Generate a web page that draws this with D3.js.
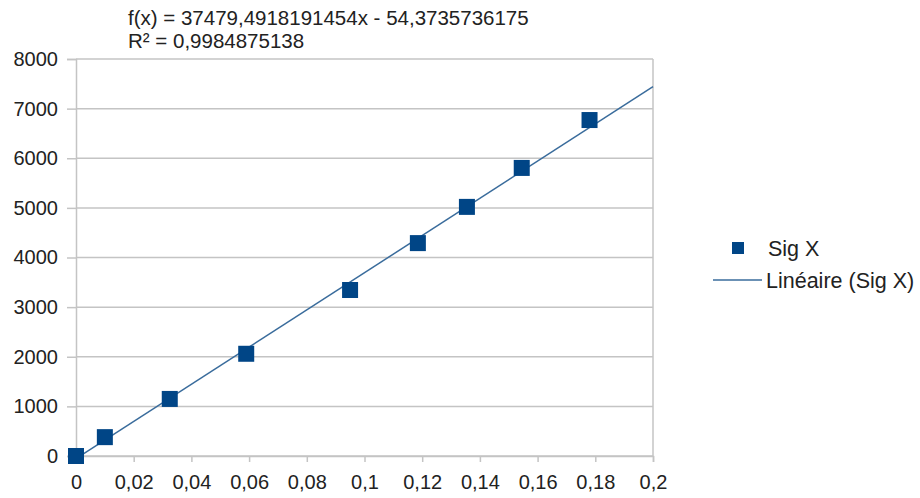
<!DOCTYPE html>
<html lang="fr">
<head>
<meta charset="UTF-8">
<title>Sig X</title>
<script src="https://d3js.org/d3.v7.min.js"></script>
<style>
  body { margin: 0; background: #fff; }
  text { font-family: "Liberation Sans", Arial, sans-serif; fill: #222; }
</style>
</head>
<body>
<div id="chart"></div>
<script>
// ===== data =====
var xValues = [0, 0.01, 0.0325, 0.059, 0.095, 0.1185, 0.1355, 0.1545, 0.178];
var sigX    = [0, 380, 1150, 2060, 3345, 4290, 5020, 5805, 6770];
var xTicks  = [0, 0.02, 0.04, 0.06, 0.08, 0.1, 0.12, 0.14, 0.16, 0.18, 0.2];
var yTicks  = [0, 1000, 2000, 3000, 4000, 5000, 6000, 7000, 8000];
var slope = 37479.4918191454, intercept = -54.3735736175;
var equationLines = ["f(x) = 37479,4918191454x - 54,3735736175", "R\u00b2 = 0,9984875138"];

var W = 920, H = 498;
var margin = {top: 59, right: 267, bottom: 42, left: 76};
var width = W - margin.left - margin.right,
    height = H - margin.top - margin.bottom;

var svg = d3.select("#chart").append("svg")
    .attr("width", W).attr("height", H);
var g = svg.append("g")
    .attr("transform", "translate(" + margin.left + "," + margin.top + ")");

var x = d3.scaleLinear().domain([0, 0.2]).range([0, width]);
var y = d3.scaleLinear().domain([0, 8000]).range([height, 0]);

var fmt = function(d) { return String(d).replace(".", ","); };

// grid lines
g.selectAll(".grid").data(yTicks).enter().append("line")
  .attr("x1", 0).attr("x2", width)
  .attr("y1", function(d) { return y(d); }).attr("y2", function(d) { return y(d); })
  .attr("stroke", "#c4c4c4").attr("stroke-width", 1.5);

// right border
g.append("line").attr("x1", width).attr("x2", width).attr("y1", 0).attr("y2", height)
  .attr("stroke", "#c4c4c4").attr("stroke-width", 1.5);

var yAxis = g.append("g")
  .call(d3.axisLeft(y).tickValues(yTicks).tickSize(9).tickPadding(9).tickFormat(function(d) { return d; }));
var xAxis = g.append("g").attr("transform", "translate(0," + height + ")")
  .call(d3.axisBottom(x).tickValues(xTicks).tickSize(6).tickPadding(9).tickFormat(fmt));

[xAxis, yAxis].forEach(function(a) {
  a.select(".domain").attr("stroke", "#c4c4c4").attr("stroke-width", 1.5);
  a.selectAll(".tick line").attr("stroke", "#c4c4c4").attr("stroke-width", 1.5);
  a.selectAll("text").style("font-size", "20px").attr("fill", "#222")
    .style("font-family", "'Liberation Sans', Arial, sans-serif");
});
xAxis.selectAll("text").attr("dy", "0.9em");

// trend line
g.append("line")
  .attr("x1", x(0)).attr("y1", y(intercept))
  .attr("x2", x(0.2)).attr("y2", y(slope * 0.2 + intercept))
  .attr("stroke", "#3a6c9c").attr("stroke-width", 1.5);

// points
var s = 16;
g.selectAll(".pt").data(xValues).enter().append("rect")
  .attr("x", function(d) { return x(d) - s / 2; })
  .attr("y", function(d, i) { return y(sigX[i]) - s / 2; })
  .attr("width", s).attr("height", s)
  .attr("fill", "#004586");

// equation
svg.selectAll(".eq").data(equationLines).enter().append("text")
  .attr("x", 128).attr("y", function(d, i) { return 25 + i * 23; })
  .style("font-size", "20.5px")
  .text(function(d) { return d; });

// legend
svg.append("rect").attr("x", 732).attr("y", 242).attr("width", 12).attr("height", 12).attr("fill", "#004586");
svg.append("text").attr("x", 768).attr("y", 256).style("font-size", "21.5px").text("Sig X");
svg.append("line").attr("x1", 713).attr("x2", 762).attr("y1", 280).attr("y2", 280)
  .attr("stroke", "#3a6c9c").attr("stroke-width", 1.5);
svg.append("text").attr("x", 766).attr("y", 288).style("font-size", "21.5px").text("Linéaire (Sig X)");
</script>
</body>
</html>
